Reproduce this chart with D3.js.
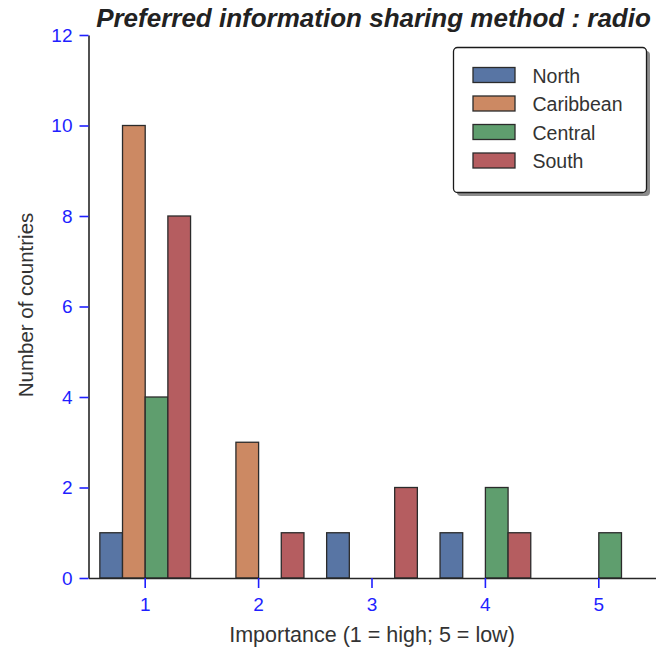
<!DOCTYPE html>
<html>
<head>
<meta charset="utf-8">
<script src="https://cdn.jsdelivr.net/npm/d3@7"></script>
<style>
  html, body { margin: 0; padding: 0; background: #fff; }
  svg { display: block; }
</style>
</head>
<body>
<svg id="chart" width="659" height="652"></svg>
<script>
const categories = ["1", "2", "3", "4", "5"];
const seriesNames = ["North", "Caribbean", "Central", "South"];
const north     = [1, 0, 1, 1, 0];
const caribbean = [10, 3, 0, 0, 0];
const central   = [4, 0, 0, 2, 1];
const south     = [8, 1, 2, 1, 0];
const yTicks = [0, 2, 4, 6, 8, 10, 12];
const colors = ["#5875A4", "#CC8963", "#5F9E6E", "#B55D60"];

const seriesValues = [north, caribbean, central, south];

const svg = d3.select("#chart");
const x0 = 88.5, x1 = 655.5;
const yTop = 35, yBot = 578;

const x = d3.scaleBand().domain(categories).range([x0, x1]).paddingInner(0).paddingOuter(0);
const inner = d3.scaleBand().domain(seriesNames).range([0, x.bandwidth() * 0.8]);
const y = d3.scaleLinear().domain([0, 12]).range([yBot, yTop]);

const font = "'Liberation Sans', Arial, sans-serif";

// bars
seriesNames.forEach((s, si) => {
  svg.append("g").selectAll("rect")
    .data(categories.map((c, ci) => ({c, v: seriesValues[si][ci]})).filter(d => d.v > 0))
    .join("rect")
    .attr("x", d => x(d.c) + x.bandwidth() * 0.1 + inner(s))
    .attr("y", d => y(d.v))
    .attr("width", inner.bandwidth())
    .attr("height", d => y(0) - y(d.v))
    .attr("fill", colors[si])
    .attr("stroke", "#2b2b2b")
    .attr("stroke-width", 1.3);
});

// y axis
const yAxis = svg.append("g")
  .attr("transform", `translate(${x0},0)`)
  .call(d3.axisLeft(y).tickValues(yTicks).tickSize(9).tickPadding(7).tickSizeOuter(0));
yAxis.select(".domain").attr("stroke", "#262626").attr("stroke-width", 1.6);
yAxis.selectAll(".tick line").attr("stroke", "#1f1fff").attr("stroke-width", 1.6);
yAxis.selectAll(".tick text").attr("fill", "#1f1fff").style("font-family", font).style("font-size", "19px");

// x axis
const xAxis = svg.append("g")
  .attr("transform", `translate(0,${yBot})`)
  .call(d3.axisBottom(x).tickSize(10).tickPadding(10).tickSizeOuter(0));
xAxis.select(".domain").attr("stroke", "#262626").attr("stroke-width", 1.6);
xAxis.selectAll(".tick line").attr("stroke", "#1f1fff").attr("stroke-width", 1.6);
xAxis.selectAll(".tick text").attr("fill", "#1f1fff").style("font-family", font).style("font-size", "19px");

// axis labels
svg.append("text")
  .attr("x", 372).attr("y", 642)
  .attr("text-anchor", "middle")
  .attr("fill", "#333")
  .style("font-family", font).style("font-size", "21.5px")
  .text("Importance (1 = high; 5 = low)");

svg.append("text")
  .attr("transform", `translate(33,305) rotate(-90)`)
  .attr("text-anchor", "middle")
  .attr("fill", "#333")
  .style("font-family", font).style("font-size", "20.5px")
  .text("Number of countries");

// title
svg.append("text")
  .attr("x", 373.5).attr("y", 27)
  .attr("text-anchor", "middle")
  .attr("fill", "#222")
  .style("font-family", font).style("font-size", "26px")
  .style("font-weight", "bold").style("font-style", "italic")
  .text("Preferred information sharing method : radio");

// legend
const lg = svg.append("g").attr("transform", "translate(453.5,47.5)");
lg.append("rect").attr("x", 3.5).attr("y", 3.5).attr("width", 193).attr("height", 145)
  .attr("rx", 4).attr("fill", "#8c8c8c");
lg.append("rect").attr("x", 0).attr("y", 0).attr("width", 193).attr("height", 145)
  .attr("rx", 4).attr("fill", "#fff").attr("stroke", "#1a1a1a").attr("stroke-width", 1.3);
seriesNames.forEach((s, i) => {
  const row = lg.append("g").attr("transform", `translate(0,${27.5 + i * 28.5})`);
  row.append("rect").attr("x", 19.5).attr("y", -7.5).attr("width", 42).attr("height", 15)
    .attr("fill", colors[i]).attr("stroke", "#2b2b2b").attr("stroke-width", 1.3);
  row.append("text").attr("x", 79).attr("y", 7.5)
    .attr("fill", "#333")
    .style("font-family", font).style("font-size", "19.5px")
    .text(s);
});
</script>
</body>
</html>
